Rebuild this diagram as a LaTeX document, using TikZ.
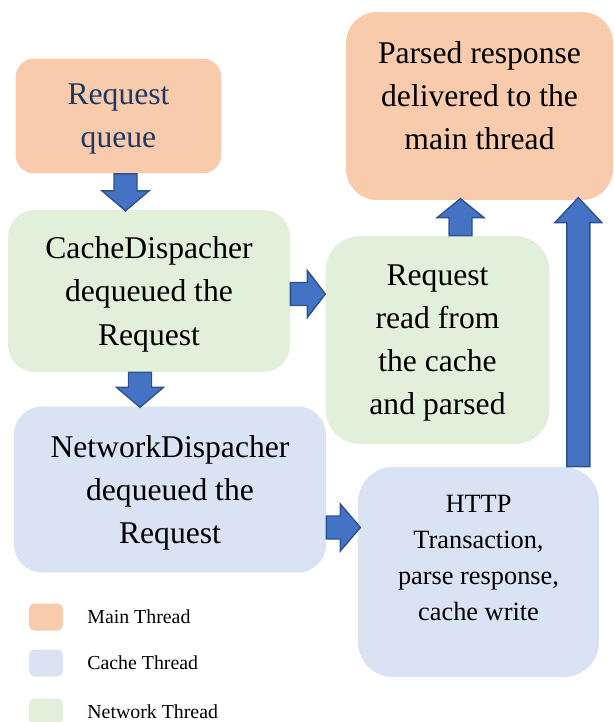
\documentclass[tikz,border=0pt]{standalone}
\usepackage{fontspec}
\setmainfont{Liberation Serif}
\usepackage{xcolor}
\usetikzlibrary{calc}

\definecolor{orangefill}{HTML}{F8CBAD}
\definecolor{greenfill}{HTML}{E2EFDA}
\definecolor{bluefill}{HTML}{DAE3F3}
\definecolor{arrowfill}{HTML}{4472C4}
\definecolor{arrowline}{HTML}{2F528F}
\definecolor{queuetext}{HTML}{1F3864}

\tikzset{
    box/.style={align=center, inner sep=0pt, text depth=0pt, font=\fontsize{18}{24.5}\selectfont},
    smallbox/.style={align=center, inner sep=0pt, font=\fontsize{15}{20.5}\selectfont},
    fatarrow/.style={fill=arrowfill, draw=arrowline, line width=0.8pt, line join=miter},
    legendbox/.style={minimum width=0.68cm, minimum height=0.54cm, inner sep=0pt, rounded corners=3pt},
    legendtext/.style={anchor=west, inner sep=0pt, font=\fontsize{11.3}{13}\selectfont}
}

% block arrow: start, direction angle, length, head length
\newcommand{\blockarrow}[4]{
    \draw[fatarrow, shift={(#1)}, rotate=#2] (0, -11.5) -- ({#3-#4}, -11.5) -- ({#3-#4}, -23.5)
        -- (#3, 0) -- ({#3-#4}, 23.5) -- ({#3-#4}, 11.5) -- (0, 11.5) -- cycle;
}

\begin{document}
\begin{tikzpicture}[x=0.02cm, y=-0.02cm]
    \useasboundingbox (0, 0) rectangle (613, 722);

    \node[box, fill=orangefill, rounded corners=10.8pt, minimum width=4.12cm, minimum height=2.3cm,
        text=queuetext] (queue) at (118.5, 116) {Request\\queue};
    \node[box, fill=greenfill, rounded corners=15.3pt, minimum width=5.64cm, minimum height=3.24cm]
        (cache) at (149, 291) {CacheDispacher\\dequeued the\\Request};
    \node[box, fill=greenfill, rounded corners=19.8pt, minimum width=4.48cm, minimum height=4.16cm]
        (read) at (437.5, 340) {Request\\read from\\the cache\\and parsed};
    \node[fill=orangefill, rounded corners=17.6pt, minimum width=5.34cm, minimum height=3.76cm, inner sep=0pt,
        label={[box, yshift=6.2pt]center:{Parsed response\\delivered to the\\main thread}}]
        (parsed) at (479.5, 106) {};
    \node[box, fill=bluefill, rounded corners=15.9pt, minimum width=6.24cm, minimum height=3.32cm]
        (network) at (170, 489.5) {NetworkDispacher\\dequeued the\\Request};
    \node[fill=bluefill, rounded corners=19.8pt, minimum width=4.82cm, minimum height=4.2cm, inner sep=0pt,
        label={[smallbox, yshift=7.9pt]center:{HTTP\\Transaction,\\parse response,\\cache write}}]
        (http) at (478.5, 572) {};

    \blockarrow{$(queue.south) + (7, 0)$}{-90}{37}{20}
    \blockarrow{$(cache.south) + (-9, 0)$}{-90}{35}{20}
    \blockarrow{$(cache.east) + (0, 3)$}{0}{35}{18}
    \blockarrow{$(network.east) + (0, 38)$}{0}{34}{20}
    \blockarrow{$(read.north) + (23, 0)$}{90}{37}{19}
    \blockarrow{$(http.north east) + (-21, 0)$}{90}{269}{25}

    % legend
    \foreach \c/\t/\y [count=\i] in {orangefill/Main Thread/617, bluefill/Cache Thread/663, greenfill/Network Thread/712} {
        \node[legendbox, fill=\c] (legbox\i) at (46, \y) {};
        \node[legendtext] (legtext\i) at (87, \y) {\t};
    }
\end{tikzpicture}
\end{document}
